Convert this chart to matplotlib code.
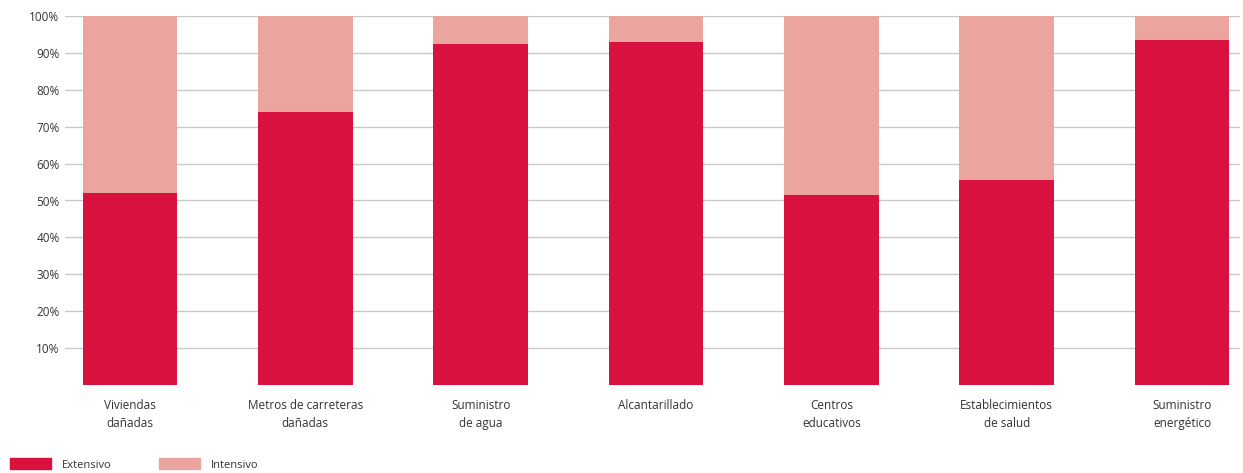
import numpy as np
import matplotlib.pyplot as plt
from matplotlib.patches import Patch

# Data
categories = ['Viviendas\ndañadas', 'Metros de carreteras\ndañadas', 'Suministro\nde agua',
              'Alcantarillado', 'Centros\neducativos', 'Establecimientos\nde salud',
              'Suministro\nenergético']
extensivo = [52, 74, 92.5, 93, 51.5, 55.5, 93.5]
intensivo = [100 - v for v in extensivo]
yticks = [10, 20, 30, 40, 50, 60, 70, 80, 90, 100]
ytick_labels = ['10%', '20%', '30%', '40%', '50%', '60%', '70%', '80%', '90%', '100%']

RED = '#D8113F'
PINK = '#ECA49E'
TXT = '#333333'

plt.rcParams['font.family'] = ['Open Sans', 'DejaVu Sans']

fig = plt.figure(figsize=(12.43, 4.73), dpi=100)
W, H = 1243, 473
ax = fig.add_axes([65 / W, 1 - 385 / H, (1240 - 65) / W, (385 - 16) / H])

x = np.arange(len(categories))
for yv in yticks:
    ax.axhline(yv, color='#c8c8c8', lw=1, zorder=0)
ax.bar(x, extensivo, width=0.54, color=RED, zorder=2)
ax.bar(x, intensivo, width=0.54, bottom=extensivo, color=PINK, zorder=2)

ax.set_xlim(-0.37, 6.33)
ax.set_ylim(0, 100)
ax.set_yticks(yticks)
ax.set_yticklabels(ytick_labels, fontsize=8.5, color=TXT)
ax.set_xticks(x)
ax.set_xticklabels(categories, fontsize=8.5, color=TXT, linespacing=1.55)
ax.tick_params(axis='both', length=0, pad=4)
ax.tick_params(axis='x', pad=10)
for s in ax.spines.values():
    s.set_visible(False)

handles = [Patch(color=RED, label='Extensivo'), Patch(color=PINK, label='Intensivo')]
fig.legend(handles=handles, loc='lower left', bbox_to_anchor=(0.0, -0.016), ncol=2,
           frameon=False, fontsize=8, handlelength=3.7, handleheight=1.1,
           handletextpad=1.0, columnspacing=4.2, labelcolor=TXT)

fig.savefig('out.png', dpi=100)
